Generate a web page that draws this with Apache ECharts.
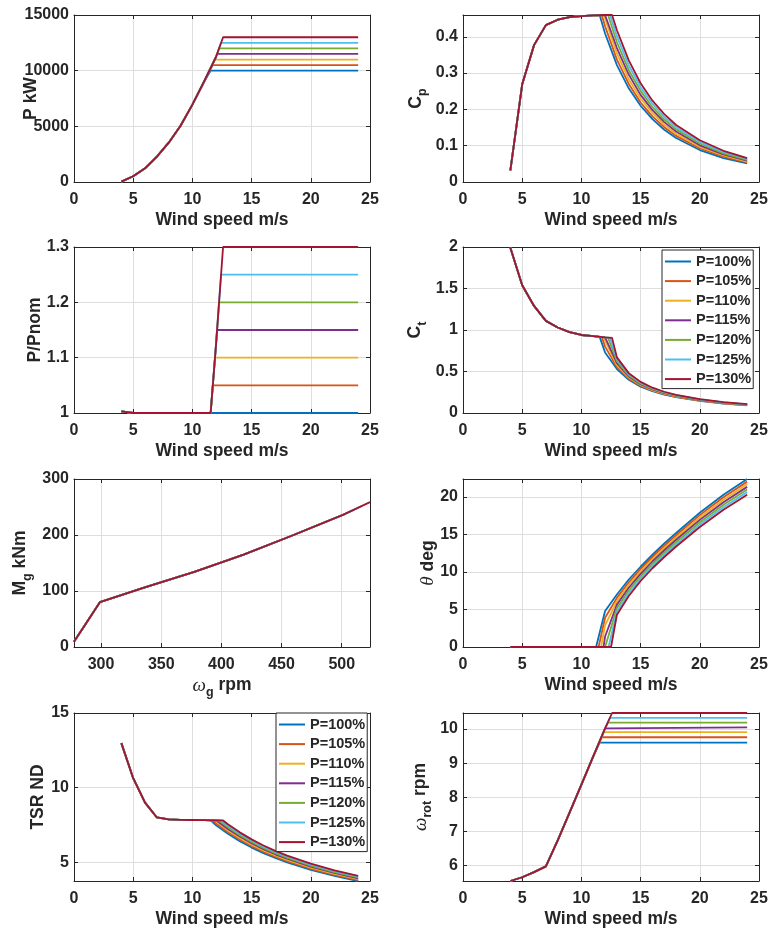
<!DOCTYPE html>
<html>
<head>
<meta charset="utf-8">
<script src="https://cdn.jsdelivr.net/npm/echarts@6.0.0/dist/echarts.min.js"></script>
<style>
html,body{margin:0;padding:0;background:#ffffff;}
#chart{width:768px;height:931px;}
</style>
</head>
<body>
<div id="chart"></div>
<script>
// ---------------- data ----------------
const seriesNames = ['P=100%','P=105%','P=110%','P=115%','P=120%','P=125%','P=130%'];

const windLow  = [4,5,6,7,8,9,10,11,12];
const windHigh = [12,13,14,15,16,17,18,20,22,24];
const windEnd  = 24;
const ratedWind = [11.54,11.72,11.91,12.08,12.25,12.42,12.59];

// P kW
const powerLow   = [30,520,1230,2280,3530,5050,6950,9050,11250];
const ratedPower = [10000,10500,11000,11500,12000,12500,13000];

// Cp
const cpLow   = [0.032,0.269,0.377,0.432,0.447,0.454,0.457,0.459,0.46];
const ratedCp = [0.46,0.46,0.46,0.46,0.46,0.46,0.46];
const cpHigh100 = [0.409,0.322,0.258,0.210,0.173,0.144,0.121,0.088,0.066,0.051];
const cpHigh105 = [0.429,0.337,0.270,0.219,0.181,0.151,0.127,0.093,0.070,0.054];
const cpHigh110 = [0.450,0.354,0.283,0.230,0.190,0.158,0.133,0.097,0.073,0.056];
const cpHigh115 = [null,0.369,0.296,0.240,0.198,0.165,0.139,0.101,0.076,0.059];
const cpHigh120 = [null,0.385,0.308,0.251,0.206,0.172,0.145,0.106,0.079,0.061];
const cpHigh125 = [null,0.401,0.321,0.261,0.215,0.179,0.151,0.110,0.083,0.064];
const cpHigh130 = [null,0.418,0.335,0.272,0.224,0.187,0.157,0.115,0.086,0.066];

// P/Pnom
const ratioWind  = [4,5,11,11.54,12];
const ratioLow   = [1.003,1,1,1,1.125];
const powerRatio = [1,1.05,1.1,1.15,1.2,1.25,1.3];

// Ct
const ctLow   = [1.99,1.54,1.29,1.11,1.03,0.975,0.94,0.925,0.91];
const ratedCt = [0.917,0.914,0.911,0.909,0.908,0.906,0.905];
const ctHigh100 = [0.73,0.53,0.40,0.318,0.262,0.221,0.190,0.145,0.114,0.093];
const ctHigh105 = [0.80,0.553,0.413,0.328,0.269,0.227,0.195,0.149,0.117,0.095];
const ctHigh110 = [0.87,0.577,0.427,0.337,0.276,0.233,0.200,0.152,0.120,0.098];
const ctHigh115 = [null,0.600,0.440,0.347,0.284,0.239,0.205,0.156,0.123,0.100];
const ctHigh120 = [null,0.623,0.453,0.356,0.291,0.244,0.209,0.160,0.125,0.102];
const ctHigh125 = [null,0.647,0.467,0.366,0.298,0.250,0.214,0.163,0.128,0.105];
const ctHigh130 = [null,0.670,0.480,0.375,0.305,0.256,0.219,0.167,0.131,0.107];

// Mg kNm vs generator speed
const genSpeedLow   = [277.5,299,337,377.5,418.5,460,501];
const torqueLow     = [9.5,80,107,134,165,200,236];
const ratedGenSpeed = [480,488,495.5,502.5,509.5,516.5,523.5];
const ratedTorque   = [217.6,224.7,231.2,237.3,244.5,251.5,258.6];

// pitch deg
const pitchLow = [0,0,0,0,0,0,0,0,0];
const pitchStartWind = [11.24,11.45,11.66,11.87,12.08,12.29,12.5];
const pitchHigh100 = [4.8,7.0,9.0,10.7,12.3,13.8,15.2,17.9,20.3,22.4];
const pitchHigh105 = [3.9,6.55,8.63,10.38,12.0,13.5,14.9,17.58,19.97,22.05];
const pitchHigh110 = [2.9,6.1,8.27,10.07,11.7,13.2,14.6,17.27,19.63,21.7];
const pitchHigh115 = [1.4,5.65,7.9,9.75,11.4,12.9,14.3,16.95,19.3,21.35];
const pitchHigh120 = [null,5.2,7.53,9.43,11.1,12.6,14.0,16.63,18.97,21.0];
const pitchHigh125 = [null,4.75,7.17,9.12,10.8,12.3,13.7,16.32,18.63,20.65];
const pitchHigh130 = [null,4.3,6.8,8.8,10.5,12.0,13.4,16.0,18.3,20.3];

// TSR
const tsrLow   = [12.98,10.63,8.99,8.0,7.87,7.84,7.83,7.82,7.81];
const ratedTsr = [7.8,7.8,7.8,7.8,7.8,7.8,7.8];
const tsrHigh100 = [7.48,6.91,6.41,5.98,5.61,5.28,4.99,4.49,4.08,3.74];
const tsrHigh105 = [7.60,7.02,6.52,6.08,5.70,5.37,5.07,4.56,4.15,3.80];
const tsrHigh110 = [7.72,7.13,6.62,6.18,5.79,5.45,5.15,4.63,4.21,3.86];
const tsrHigh115 = [null,7.23,6.72,6.27,5.88,5.53,5.23,4.70,4.28,3.92];
const tsrHigh120 = [null,7.34,6.81,6.36,5.96,5.61,5.30,4.77,4.34,3.98];
const tsrHigh125 = [null,7.44,6.91,6.45,6.04,5.69,5.37,4.84,4.40,4.03];
const tsrHigh130 = [null,7.54,7.00,6.53,6.12,5.76,5.44,4.90,4.45,4.08];

// rotor speed rpm
const rotorLow   = [5.55,5.66,5.81,5.98,6.74,7.55,8.37,9.2,10.02];
const ratedRotor = [9.6,9.76,9.91,10.05,10.19,10.33,10.47];

// tick labels
const windTicks     = [0,5,10,15,20,25];
const powerTicks    = [0,5000,10000,15000];
const cpTicks       = [0,0.1,0.2,0.3,0.4];
const ratioTicks    = [1,1.1,1.2,1.3];
const ctTicks       = [0,0.5,1,1.5,2];
const genSpeedTicks = [300,350,400,450,500];
const torqueTicks   = [0,100,200,300];
const pitchTicks    = [0,5,10,15,20];
const tsrTicks      = [5,10,15];
const rotorTicks    = [6,7,8,9,10];

// ---------------- assembly ----------------
const cpHigh = [cpHigh100,cpHigh105,cpHigh110,cpHigh115,cpHigh120,cpHigh125,cpHigh130];
const ctHigh = [ctHigh100,ctHigh105,ctHigh110,ctHigh115,ctHigh120,ctHigh125,ctHigh130];
const pitchHigh = [pitchHigh100,pitchHigh105,pitchHigh110,pitchHigh115,pitchHigh120,pitchHigh125,pitchHigh130];
const tsrHigh = [tsrHigh100,tsrHigh105,tsrHigh110,tsrHigh115,tsrHigh120,tsrHigh125,tsrHigh130];

function curve(lowX, lowY, rX, rY, highX, highY) {
  const pts = [];
  for (let i = 0; i < lowX.length; i++) if (lowX[i] < rX) pts.push([lowX[i], lowY[i]]);
  pts.push([rX, rY]);
  for (let i = 0; i < highX.length; i++) if (highX[i] > rX && highY[i] != null) pts.push([highX[i], highY[i]]);
  return pts;
}

const FONT = 'Liberation Sans, Arial, Helvetica, sans-serif';
const INK = '#262626';
const colors = ['#0072BD','#D95319','#EDB120','#7E2F8E','#77AC30','#4DBEEE','#A2142F'];

const nameRich = {
  b: {fontFamily: FONT, fontWeight: 'bold', fontSize: 17.5, color: INK, lineHeight: 30},
  s: {fontFamily: FONT, fontWeight: 'bold', fontSize: 12.5, color: INK, lineHeight: 30, padding: [14,0,0,0]},
  i: {fontFamily: 'Liberation Serif, serif', fontStyle: 'italic', fontWeight: 'normal', fontSize: 19, color: INK, lineHeight: 30}
};

const gridBoxes = [
  {left: 74,  top: 15,  width: 296, height: 167},
  {left: 463, top: 15,  width: 296, height: 167},
  {left: 74,  top: 247, width: 296, height: 166},
  {left: 463, top: 247, width: 296, height: 166},
  {left: 74,  top: 479, width: 296, height: 168},
  {left: 463, top: 479, width: 296, height: 168},
  {left: 74,  top: 713, width: 296, height: 168},
  {left: 463, top: 713, width: 296, height: 168}
];
const grids = gridBoxes.map(g => Object.assign({containLabel: false, outerBoundsMode: 'none'}, g));

const windName = '{b|Wind speed m/s}';
const panels = [
  {x: {min: 0, max: 25, ticks: windTicks, name: windName, gap: 23.5},
   y: {min: 0, max: 15000, ticks: powerTicks, name: '{b|P kW}', gap: 28},
   data: k => curve(windLow, powerLow, ratedWind[k], ratedPower[k], [windEnd], [ratedPower[k]])},
  {x: {min: 0, max: 25, ticks: windTicks, name: windName, gap: 23.5},
   y: {min: 0, max: 0.46, ticks: cpTicks, name: '{b|C}{s|p}', gap: 32},
   data: k => curve(windLow, cpLow, ratedWind[k], ratedCp[k], windHigh, cpHigh[k])},
  {x: {min: 0, max: 25, ticks: windTicks, name: windName, gap: 23.5},
   y: {min: 1, max: 1.3, ticks: ratioTicks, name: '{b|P/Pnom}', gap: 23.5},
   data: k => curve(ratioWind, ratioLow, ratedWind[k], powerRatio[k], [windEnd], [powerRatio[k]])},
  {x: {min: 0, max: 25, ticks: windTicks, name: windName, gap: 23.5},
   y: {min: 0, max: 2, ticks: ctTicks, name: '{b|C}{s|t}', gap: 32.5},
   data: k => curve(windLow, ctLow, ratedWind[k], ratedCt[k], windHigh, ctHigh[k])},
  {x: {min: 277.5, max: 523.5, ticks: genSpeedTicks, name: '{i|ω}{s|g}{b| rpm}', gap: 23.5},
   y: {min: 0, max: 300, ticks: torqueTicks, name: '{b|M}{s|g}{b| kNm}', gap: 38.5},
   data: k => curve(genSpeedLow, torqueLow, ratedGenSpeed[k], ratedTorque[k], [], [])},
  {x: {min: 0, max: 25, ticks: windTicks, name: windName, gap: 23.5},
   y: {min: 0, max: 22.4, ticks: pitchTicks, name: '{i|θ}{b| deg}', gap: 20},
   data: k => curve(windLow, pitchLow, pitchStartWind[k], 0, windHigh, pitchHigh[k])},
  {x: {min: 0, max: 25, ticks: windTicks, name: windName, gap: 23.5},
   y: {min: 3.74, max: 15, ticks: tsrTicks, name: '{b|TSR ND}', gap: 21},
   data: k => curve(windLow, tsrLow, ratedWind[k], ratedTsr[k], windHigh, tsrHigh[k])},
  {x: {min: 0, max: 25, ticks: windTicks, name: windName, gap: 23.5},
   y: {min: 5.55, max: 10.47, ticks: rotorTicks, name: '{i|ω}{s|rot}{b| rpm}', gap: 27.5},
   data: k => curve(windLow, rotorLow, ratedWind[k], ratedRotor[k], [windEnd], [ratedRotor[k]])}
];

function tickLabel(ticks) {
  return function (v) {
    for (const t of ticks) if (Math.abs(v - t) < 1e-7 * Math.max(1, Math.abs(t))) return String(t);
    return '';
  };
}

function makeAxis(cfg, gridIndex, isX, primary) {
  const step = +(cfg.ticks[1] - cfg.ticks[0]).toFixed(8);
  const ratio = cfg.min / step;
  const isMultiple = Math.abs(ratio - Math.round(ratio)) < 1e-9;
  const ax = {
    type: 'value',
    gridIndex: gridIndex,
    min: cfg.min,
    max: cfg.max,
    position: isX ? (primary ? 'bottom' : 'top') : (primary ? 'left' : 'right'),
    axisLine: {show: true, onZero: false, lineStyle: {color: INK, width: 1}},
    axisTick: {show: true, inside: true, length: 4, lineStyle: {color: INK, width: 1}},
    axisLabel: {show: primary, margin: isX ? 10 : 5, fontFamily: FONT, fontWeight: 'bold',
                fontSize: 16, color: INK, formatter: tickLabel(cfg.ticks),
                hideOverlap: false},
    splitLine: {show: primary, lineStyle: {color: '#dedede', width: 1}},
    silent: true
  };
  if (isMultiple) ax.interval = step; else { ax.minInterval = step; ax.maxInterval = step; }
  if (primary) {
    ax.name = cfg.name;
    ax.nameLocation = 'middle';
    ax.nameGap = cfg.gap;
    ax.nameMoveOverlap = false;
    if (!isX) ax.nameRotate = 90;
    ax.nameTextStyle = {fontFamily: FONT, fontWeight: 'bold', fontSize: 17.5, color: INK, lineHeight: 30, rich: nameRich};
  }
  return ax;
}

const xAxes = [], yAxes = [], series = [];
panels.forEach((p, i) => { xAxes.push(makeAxis(p.x, i, true, true)); yAxes.push(makeAxis(p.y, i, false, true)); });
panels.forEach((p, i) => { xAxes.push(makeAxis(p.x, i, true, false)); yAxes.push(makeAxis(p.y, i, false, false)); });

panels.forEach((p, i) => {
  seriesNames.forEach((name, k) => {
    series.push({
      type: 'line', name: name, xAxisIndex: i, yAxisIndex: i,
      data: p.data(k), symbol: 'none', showSymbol: false, clip: false,
      lineStyle: {width: 1.8, color: colors[k]}, itemStyle: {color: colors[k]},
      emphasis: {disabled: true}, silent: true, animation: false
    });
  });
});

function legendAt(left, top) {
  return {
    data: seriesNames, orient: 'vertical', left: left, top: top,
    icon: 'rect', itemWidth: 26, itemHeight: 2, itemGap: 4.6, padding: [4, 2, 2, 3],
    backgroundColor: '#ffffff', borderColor: INK, borderWidth: 1, borderRadius: 0,
    selectedMode: false, z: 10,
    textStyle: {fontFamily: FONT, fontWeight: 'bold', fontSize: 14.5, color: INK, lineHeight: 14.5}
  };
}

const option = {
  animation: false,
  backgroundColor: '#ffffff',
  textStyle: {fontFamily: FONT},
  color: colors,
  grid: grids,
  xAxis: xAxes,
  yAxis: yAxes,
  legend: [legendAt(662, 250), legendAt(276, 713)],
  series: series
};

const chart = echarts.init(document.getElementById('chart'), null, {renderer: 'canvas'});
chart.setOption(option);
</script>
</body>
</html>
